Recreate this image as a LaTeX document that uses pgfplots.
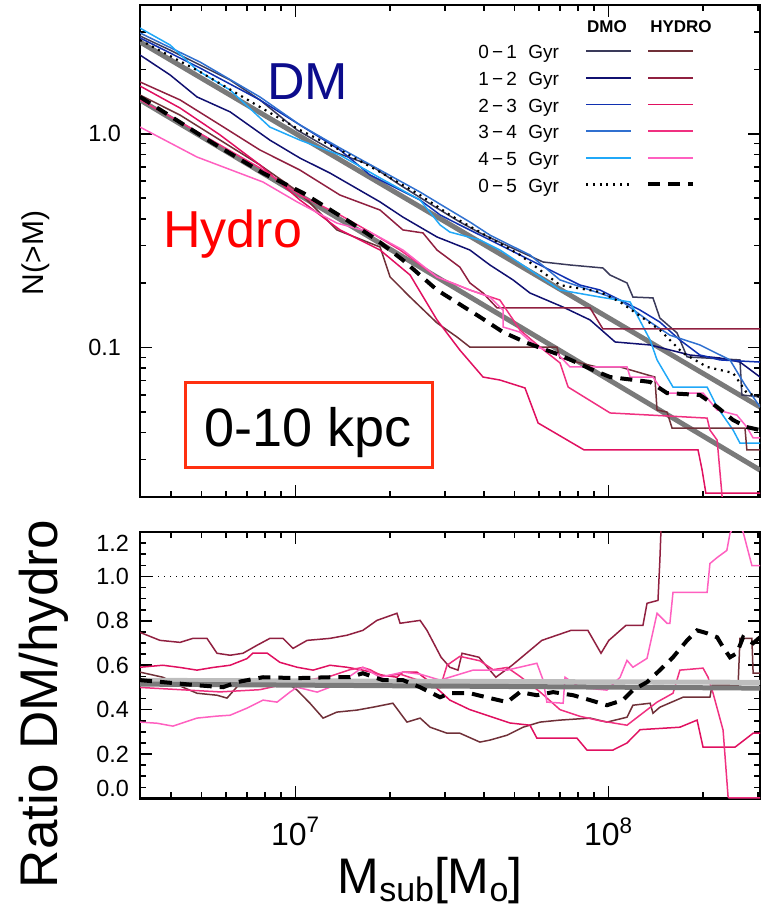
\documentclass[border=0pt]{standalone}
\usepackage{fontspec}
\setmainfont{Liberation Sans}
\usepackage{pgfplots}
\pgfplotsset{compat=1.18}
\definecolor{dmA}{HTML}{3A3A5A}
\definecolor{dmB}{HTML}{101070}
\definecolor{dmC}{HTML}{1030B0}
\definecolor{dmD}{HTML}{3070D0}
\definecolor{dmE}{HTML}{20A8F8}
\definecolor{hyA}{HTML}{703038}
\definecolor{hyB}{HTML}{902040}
\definecolor{hyC}{HTML}{E01060}
\definecolor{hyD}{HTML}{F03080}
\definecolor{hyE}{HTML}{FF60C0}
\definecolor{fitgray}{HTML}{7A7A7A}
\definecolor{lightgray2}{HTML}{BDBDBD}
\definecolor{dmtext}{HTML}{0C0C8C}
\definecolor{boxred}{HTML}{FF3010}
\pgfplotsset{
  idl/.style={
    scale only axis, width=310pt,
    axis line style={line width=1.2pt},
    every tick/.style={black, line width=0.8pt},
    major tick length=6pt, minor tick length=3pt,
    tick align=inside,
    tick label style={font=\fontsize{11.7}{13}\selectfont},
    clip=true,
  },
  cv/.style={line width=0.75pt},
}
\begin{document}
\begin{tikzpicture}[x=0.5pt,y=0.5pt]
\useasboundingbox (0,0) rectangle (761,908);
% ---------------- top panel ----------------
\begin{axis}[idl,
  at={(70pt,205.5pt)}, anchor=south west, height=246pt,
  xmin=6.503, xmax=8.484, ymin=-1.699, ymax=0.602,
  xtick={7,8}, xticklabels={},
  minor xtick={6.602,6.699,6.778,6.845,6.903,6.954,7.301,7.477,7.602,7.699,7.778,7.845,7.903,7.954,8.301,8.477},
  ytick={-1,0}, yticklabels={0.1,1.0},
  minor ytick={-1.523,-1.398,-1.301,-1.222,-1.155,-1.097,-1.046,-0.699,-0.523,-0.398,-0.301,-0.222,-0.155,-0.097,-0.046,0.301,0.477},
  yticklabel style={xshift=-6pt},
]
% power-law fits
\addplot[fitgray, line width=2.5pt] coordinates {(6.503,0.429) (8.484,-1.278)};
\addplot[fitgray, line width=2.5pt] coordinates {(6.503,0.158) (8.484,-1.573)};
% DMO 0-1
\addplot[cv, dmA] coordinates {(6.503,0.457) (6.599,0.391) (6.695,0.321) (6.791,0.251) (6.886,0.158) (7.005,0.017) (7.132,-0.090) (7.238,-0.146) (7.334,-0.240) (7.452,-0.348) (7.525,-0.413) (7.589,-0.464) (7.685,-0.530) (7.791,-0.600) (7.877,-0.614) (7.982,-0.628) (8.005,-0.661) (8.059,-0.698) (8.078,-0.764) (8.142,-0.768) (8.164,-0.862) (8.219,-0.932) (8.251,-1.044) (8.420,-1.058) (8.426,-1.222) (8.484,-1.231)};
% DMO 1-2
\addplot[cv, dmB] coordinates {(6.503,0.368) (6.599,0.275) (6.685,0.172) (6.791,0.102) (6.918,-0.030) (7.014,-0.114) (7.110,-0.184) (7.270,-0.319) (7.343,-0.390) (7.452,-0.483) (7.557,-0.544) (7.621,-0.614) (7.695,-0.684) (7.749,-0.745) (7.855,-0.811) (7.941,-0.871) (8.021,-0.974) (8.133,-0.988) (8.260,-1.035) (8.356,-1.049) (8.420,-1.068) (8.484,-1.138)};
% DMO 2-3
\addplot[cv, dmC] coordinates {(6.503,0.448) (6.695,0.307) (6.886,0.158) (7.014,0.041) (7.142,-0.076) (7.238,-0.193) (7.398,-0.310) (7.462,-0.380) (7.525,-0.427) (7.621,-0.497) (7.717,-0.567) (7.845,-0.661) (7.909,-0.708) (7.973,-0.731) (8.037,-0.778) (8.101,-0.825) (8.164,-0.881) (8.228,-0.965) (8.292,-1.035) (8.356,-1.058) (8.484,-1.068)};
% DMO 3-4
\addplot[cv, dmD] coordinates {(6.503,0.471) (6.695,0.335) (6.886,0.172) (7.014,0.041) (7.142,-0.067) (7.270,-0.170) (7.398,-0.273) (7.493,-0.357) (7.557,-0.413) (7.621,-0.474) (7.685,-0.521) (7.749,-0.567) (7.845,-0.684) (7.941,-0.731) (8.037,-0.778) (8.133,-0.881) (8.196,-0.942) (8.292,-0.988) (8.388,-1.058) (8.436,-1.175) (8.484,-1.278)};
% DMO 4-5
\addplot[cv, dmE] coordinates {(6.503,0.494) (6.599,0.415) (6.685,0.298) (6.791,0.204) (6.918,0.031) (7.014,-0.030) (7.142,-0.100) (7.270,-0.207) (7.398,-0.310) (7.462,-0.427) (7.493,-0.460) (7.589,-0.497) (7.653,-0.544) (7.749,-0.637) (7.845,-0.731) (7.973,-0.764) (8.069,-0.787) (8.133,-0.965) (8.155,-1.058) (8.206,-1.185) (8.315,-1.185) (8.347,-1.278) (8.398,-1.386) (8.420,-1.447) (8.484,-1.447)};
% HYDRO 0-1
\addplot[cv, hyA] coordinates {(6.503,0.181) (6.631,0.087) (6.759,-0.030) (6.886,-0.146) (7.014,-0.277) (7.132,-0.450) (7.270,-0.530) (7.302,-0.670) (7.366,-0.764) (7.452,-0.885) (7.516,-0.951) (7.557,-0.998) (7.835,-0.998) (7.845,-1.049) (7.963,-1.091) (8.037,-1.091) (8.148,-1.138) (8.155,-1.292) (8.187,-1.302) (8.203,-1.377) (8.436,-1.377) (8.442,-1.479) (8.484,-1.479)};
% HYDRO 1-2
\addplot[cv, hyB] coordinates {(6.503,0.242) (6.631,0.158) (6.759,0.041) (6.886,-0.076) (7.014,-0.170) (7.142,-0.287) (7.270,-0.357) (7.343,-0.450) (7.407,-0.464) (7.452,-0.544) (7.525,-0.624) (7.557,-0.698) (7.599,-0.745) (7.644,-0.815) (7.941,-0.815) (7.982,-0.913) (8.484,-0.913)};
% HYDRO 2-3
\addplot[cv, hyC] coordinates {(6.503,0.223) (6.631,0.120) (6.759,-0.006) (6.886,-0.146) (7.014,-0.310) (7.142,-0.450) (7.270,-0.544) (7.366,-0.661) (7.452,-0.871) (7.525,-1.012) (7.599,-1.138) (7.653,-1.152) (7.733,-1.189) (7.775,-1.353) (7.922,-1.479) (8.286,-1.479) (8.299,-1.573) (8.311,-1.681) (8.484,-1.681)};
% HYDRO 3-4
\addplot[cv, hyD] coordinates {(6.503,0.158) (6.631,0.055) (6.759,-0.053) (6.886,-0.160) (7.014,-0.287) (7.142,-0.380) (7.238,-0.460) (7.334,-0.544) (7.452,-0.670) (7.557,-0.731) (7.653,-0.778) (7.717,-0.918) (7.781,-0.998) (7.845,-1.072) (7.871,-1.185) (8.005,-1.306) (8.315,-1.330) (8.324,-1.386) (8.347,-1.433) (8.362,-1.681) (8.368,-1.80)};
% HYDRO 4-5
\addplot[cv, hyE] coordinates {(6.503,0.031) (6.685,-0.109) (6.896,-0.226) (7.005,-0.319) (7.132,-0.418) (7.238,-0.460) (7.343,-0.544) (7.452,-0.670) (7.557,-0.731) (7.621,-0.764) (7.663,-0.825) (7.663,-0.904) (7.717,-0.928) (7.771,-0.998) (7.835,-1.026) (7.877,-1.091) (8.059,-1.091) (8.069,-1.138) (8.142,-1.138) (8.164,-1.185) (8.187,-1.213) (8.302,-1.213) (8.347,-1.292) (8.410,-1.316) (8.442,-1.372) (8.462,-1.423) (8.484,-1.423)};
% DMO mean 0-5 (dotted)
\addplot[black, line width=1.1pt, dash pattern=on 1pt off 2.4pt] coordinates {(6.503,0.438) (6.695,0.289) (6.886,0.125) (7.014,0.017) (7.142,-0.076) (7.270,-0.179) (7.398,-0.287) (7.493,-0.380) (7.589,-0.460) (7.717,-0.567) (7.845,-0.708) (7.973,-0.740) (8.037,-0.787) (8.110,-0.862) (8.164,-0.918) (8.238,-1.026) (8.315,-1.091) (8.398,-1.119) (8.442,-1.213) (8.484,-1.231)};
% HYDRO mean 0-5 (dashed)
\addplot[black, line width=2pt, dash pattern=on 6pt off 4pt] coordinates {(6.503,0.172) (6.736,-0.044) (6.896,-0.184) (7.024,-0.277) (7.164,-0.404) (7.260,-0.497) (7.343,-0.591) (7.452,-0.731) (7.589,-0.857) (7.663,-0.928) (7.740,-0.979) (7.845,-1.035) (7.950,-1.105) (8.005,-1.138) (8.133,-1.161) (8.187,-1.213) (8.292,-1.222) (8.347,-1.278) (8.398,-1.339) (8.442,-1.372) (8.484,-1.386)};
\end{axis}
% ---------------- bottom panel ----------------
\begin{axis}[idl,
  at={(70pt,54.75pt)}, anchor=south west, height=133.25pt,
  xmin=6.503, xmax=8.484, ymin=0, ymax=1.2,
  xtick={7,8}, xticklabels={10\textsuperscript{7},10\textsuperscript{8}},
  xticklabel style={font=\fontsize{16}{18}\selectfont, yshift=-6pt},
  minor xtick={6.602,6.699,6.778,6.845,6.903,6.954,7.301,7.477,7.602,7.699,7.778,7.845,7.903,7.954,8.301,8.477},
  ytick={0,0.2,0.4,0.6,0.8,1.0,1.2},
  yticklabels={\raisebox{5.25pt}[\height][\depth]{0.0},0.2,0.4,0.6,0.8,1.0,\raisebox{-5.75pt}[\height][\depth]{1.2}},
  minor y tick num=3,
  yticklabel style={xshift=-2pt},
]
\addplot[black, line width=0.8pt, dash pattern=on 0.6pt off 2.4pt] coordinates {(6.503,1.0) (8.484,1.0)};
% HYDRO 1-2 / DMO
\addplot[cv, hyB] coordinates {(6.503,0.748) (6.567,0.712) (6.631,0.703) (6.672,0.721) (6.717,0.721) (6.749,0.654) (6.791,0.645) (6.832,0.654) (6.877,0.690) (6.918,0.721) (6.960,0.721) (6.992,0.676) (7.037,0.712) (7.110,0.721) (7.164,0.735) (7.215,0.757) (7.260,0.802) (7.324,0.834) (7.334,0.789) (7.398,0.802) (7.420,0.757) (7.465,0.636) (7.493,0.591) (7.519,0.578) (7.532,0.654) (7.586,0.636) (7.640,0.546) (7.692,0.600) (7.787,0.712) (7.880,0.757) (7.934,0.757) (7.976,0.654) (8.001,0.712) (8.056,0.780) (8.110,0.780) (8.123,0.879) (8.158,0.892) (8.164,1.072) (8.171,1.34)};
% HYDRO 0-1 / DMO
\addplot[cv, hyA] coordinates {(6.503,0.569) (6.576,0.546) (6.640,0.501) (6.685,0.474) (6.749,0.465) (6.781,0.452) (6.823,0.519) (6.877,0.519) (6.928,0.524) (6.973,0.519) (7.005,0.488) (7.046,0.429) (7.088,0.362) (7.132,0.389) (7.196,0.398) (7.247,0.411) (7.311,0.429) (7.356,0.344) (7.398,0.362) (7.430,0.321) (7.484,0.294) (7.525,0.294) (7.589,0.254) (7.621,0.263) (7.676,0.285) (7.727,0.321) (7.781,0.344) (7.845,0.353) (7.941,0.362) (7.995,0.344) (8.059,0.366) (8.078,0.420) (8.133,0.429) (8.142,0.384) (8.164,0.411) (8.238,0.456) (8.324,0.456) (8.331,0.510) (8.414,0.510) (8.420,0.721) (8.458,0.721) (8.462,0.564) (8.484,0.564)};
% HYDRO 2-3 / DMO
\addplot[cv, hyC] coordinates {(6.503,0.591) (6.576,0.600) (6.631,0.590) (6.685,0.578) (6.736,0.590) (6.791,0.600) (6.845,0.630) (6.864,0.655) (6.909,0.655) (6.950,0.613) (7.005,0.591) (7.056,0.578) (7.110,0.600) (7.164,0.591) (7.215,0.578) (7.279,0.555) (7.324,0.546) (7.343,0.569) (7.388,0.569) (7.430,0.524) (7.493,0.443) (7.557,0.400) (7.621,0.370) (7.685,0.340) (7.749,0.330) (7.771,0.272) (7.899,0.272) (7.931,0.218) (8.014,0.218) (8.059,0.250) (8.101,0.310) (8.228,0.321) (8.283,0.353) (8.302,0.231) (8.404,0.231) (8.462,0.294) (8.484,0.294)};
% HYDRO 3-4 / DMO
\addplot[cv, hyD] coordinates {(6.503,0.500) (6.631,0.490) (6.759,0.480) (6.886,0.490) (6.982,0.520) (7.110,0.550) (7.174,0.580) (7.215,0.590) (7.238,0.580) (7.279,0.550) (7.334,0.560) (7.398,0.530) (7.462,0.500) (7.484,0.600) (7.525,0.640) (7.589,0.620) (7.631,0.580) (7.676,0.590) (7.717,0.550) (7.781,0.480) (7.845,0.400) (7.909,0.370) (7.973,0.350) (8.059,0.330) (8.155,0.434) (8.206,0.474) (8.228,0.578) (8.302,0.587) (8.318,0.546) (8.334,0.474) (8.366,0.308) (8.382,0.007) (8.385,0.003) (8.484,0.003)};
% HYDRO 4-5 / DMO
\addplot[cv, hyE] coordinates {(6.503,0.344) (6.557,0.339) (6.608,0.326) (6.685,0.362) (6.749,0.371) (6.791,0.375) (6.845,0.407) (6.896,0.443) (6.941,0.434) (6.982,0.479) (7.005,0.501) (7.069,0.479) (7.110,0.501) (7.164,0.541) (7.215,0.591) (7.270,0.546) (7.343,0.569) (7.398,0.560) (7.462,0.533) (7.567,0.578) (7.676,0.578) (7.771,0.609) (7.791,0.533) (7.803,0.434) (7.855,0.429) (7.861,0.546) (7.909,0.500) (7.995,0.488) (8.037,0.546) (8.059,0.622) (8.078,0.591) (8.123,0.631) (8.155,0.834) (8.187,0.789) (8.196,0.789) (8.206,0.928) (8.315,0.928) (8.324,1.058) (8.347,1.085) (8.378,1.117) (8.388,1.193) (8.410,1.250) (8.430,1.200) (8.458,1.049) (8.484,1.049)};
% fits
\addplot[lightgray2, line width=2.5pt] coordinates {(6.503,0.532) (8.484,0.523)};
\addplot[fitgray, line width=2.5pt] coordinates {(6.503,0.515) (8.484,0.497)};
% mean ratio
\addplot[black, line width=2pt, dash pattern=on 6pt off 4pt] coordinates {(6.503,0.533) (6.576,0.524) (6.685,0.510) (6.768,0.501) (6.813,0.524) (6.896,0.546) (7.005,0.542) (7.110,0.546) (7.174,0.546) (7.215,0.564) (7.279,0.533) (7.343,0.533) (7.398,0.501) (7.462,0.456) (7.493,0.474) (7.557,0.474) (7.621,0.452) (7.676,0.434) (7.717,0.479) (7.771,0.465) (7.823,0.479) (7.887,0.465) (7.941,0.443) (7.995,0.420) (8.046,0.443) (8.078,0.488) (8.123,0.524) (8.164,0.578) (8.206,0.636) (8.251,0.712) (8.283,0.757) (8.315,0.744) (8.347,0.726) (8.366,0.681) (8.388,0.636) (8.410,0.654) (8.430,0.726) (8.462,0.699) (8.484,0.726)};
\end{axis}
% ---------------- annotations (pixel units, y up) ----------------
\node[anchor=base west, inner sep=0pt, text=dmtext, font=\fontsize{26}{26}\selectfont] at (267,808.5) {DM};
\node[anchor=base west, inner sep=0pt, text=red, font=\fontsize{26}{26}\selectfont] at (163,660) {Hydro};
\draw[boxred, line width=1.5pt] (185,525) rectangle (432,440);
\node[anchor=base, inner sep=0pt, font=\fontsize{27}{27}\selectfont] at (308.5,461) {0-10 kpc};
% legend
\node[anchor=base, inner sep=0pt, font=\bfseries\fontsize{8.5}{9}\selectfont] at (607,875) {DMO};
\node[anchor=base, inner sep=0pt, font=\bfseries\fontsize{8.5}{9}\selectfont] at (681,875) {HYDRO};
\foreach \lab/\yb/\yl/\cd/\ch in {0/849/857/dmA/hyA, 1/822/830/dmB/hyB, 2/795.5/803.5/dmC/hyC, 3/769/777/dmD/hyD, 4/742/750/dmE/hyE}{
  \pgfmathtruncatemacro{\labb}{\lab+1}
  \node[anchor=base west, inner sep=0pt, font=\fontsize{9.5}{10}\selectfont] at (478,\yb) {\lab\,−\,\labb\hspace{0.6em}Gyr};
  \draw[\cd, line width=0.9pt] (586,\yl) -- (631,\yl);
  \draw[\ch, line width=0.9pt] (648,\yl) -- (693,\yl);
}
\node[anchor=base west, inner sep=0pt, font=\fontsize{9.5}{10}\selectfont] at (478,715.5) {0\,−\,5\hspace{0.6em}Gyr};
\draw[black, line width=1.1pt, dash pattern=on 1pt off 2.4pt] (586,723.5) -- (631,723.5);
\draw[black, line width=2pt, dash pattern=on 6pt off 4pt] (648,723.5) -- (693,723.5);
% axis titles
\node[rotate=90, anchor=base, inner sep=0pt, font=\fontsize{15}{15}\selectfont] at (43,655) {N(>M)};
\node[rotate=90, anchor=base, inner sep=0pt, font=\fontsize{26.5}{27}\selectfont] at (57,204) {Ratio DM/hydro};
\node[anchor=base, inner sep=0pt, font=\fontsize{25}{25}\selectfont] at (430,14) {M\raisebox{-4pt}{\fontsize{17}{17}\selectfont sub}[M\raisebox{-4pt}{\fontsize{17}{17}\selectfont o}]};
\end{tikzpicture}
\end{document}
